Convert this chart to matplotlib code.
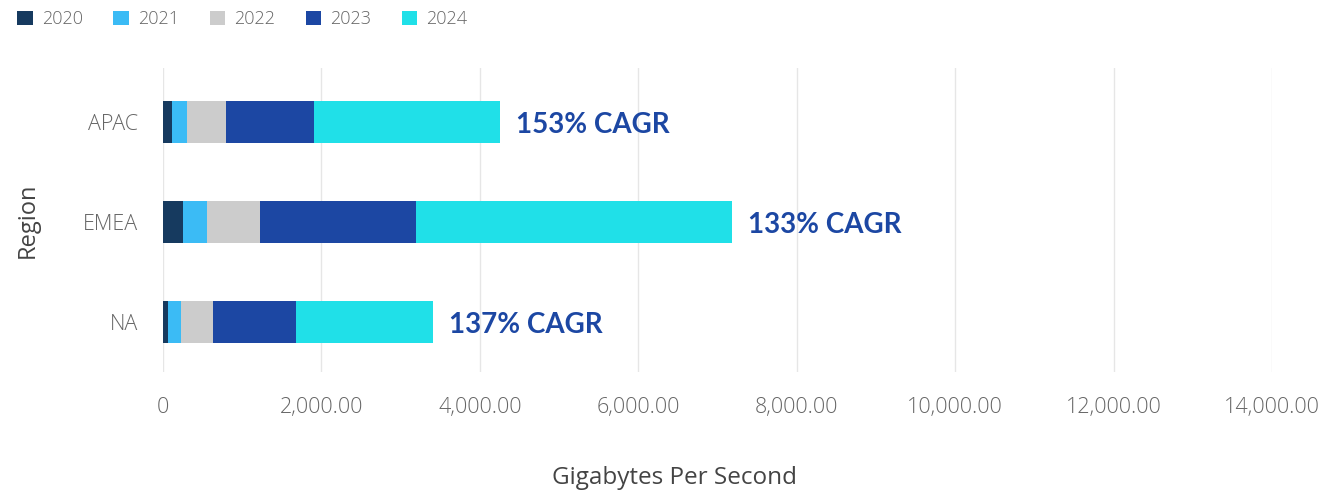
import matplotlib
matplotlib.use("Agg")
import matplotlib.pyplot as plt
from matplotlib.patches import Patch
from matplotlib.ticker import FuncFormatter

regions = ["NA", "EMEA", "APAC"]
years = ["2020", "2021", "2022", "2023", "2024"]
v2020 = [63, 248, 110]
v2021 = [164, 303, 189]
v2022 = [404, 670, 493]
v2023 = [1049, 1969, 1111]
v2024 = [1730, 3990, 2350]
cagr_labels = ["137% CAGR", "133% CAGR", "153% CAGR"]
colors = ["#163A5F", "#3BBBF5", "#CCCCCC", "#1C47A3", "#20E0E8"]

plt.rcParams['font.family'] = ['Open Sans', 'DejaVu Sans']

fig = plt.figure(figsize=(13.44, 4.94), dpi=100)
ax = fig.add_axes([163/1344, 1-372/494, (1272-163)/1344, (372-68)/494])

series = [v2020, v2021, v2022, v2023, v2024]
y = list(range(len(regions)))
left = [0]*len(regions)
for vals, c in zip(series, colors):
    ax.barh(y, vals, left=left, height=0.42, color=c, zorder=3)
    left = [l+v for l, v in zip(left, vals)]

for yi, tot, lab in zip(y, left, cagr_labels):
    ax.text(tot + 200, yi - 0.03, lab, va='center', ha='left', fontsize=20,
            fontweight='bold', color='#1C47A3', family=['Lato', 'DejaVu Sans'])

ax.set_xlim(0, 14000)
ax.set_ylim(-0.5, 2.54)
ax.set_xticks(range(0, 14001, 2000))
ax.xaxis.set_major_formatter(FuncFormatter(lambda v, p: "0" if v == 0 else f"{v:,.2f}"))
ax.set_yticks(y)
ax.set_yticklabels(regions)
ax.tick_params(axis='both', length=0, labelsize=15.5, labelcolor='#666666')
ax.tick_params(axis='x', pad=18)
ax.tick_params(axis='y', pad=18)
for t in ax.get_xticklabels() + ax.get_yticklabels():
    t.set_fontweight('light')
ax.grid(axis='x', color='#E6E6E6', linewidth=1, zorder=0)
for s in ax.spines.values():
    s.set_visible(False)
fig.text(0.502, 1-478/494, "Gigabytes Per Second", fontsize=17.5, color='#444444',
         ha='center', va='center')
fig.text(28/1344, 1-220/494, "Region", fontsize=17, color='#444444',
         ha='center', va='center', rotation=90)

handles = [Patch(facecolor=c, label=yr) for c, yr in zip(colors, years)]
leg = fig.legend(handles=handles, loc='upper left', bbox_to_anchor=(0.0008, 1.012), ncol=5,
           frameon=False, fontsize=13, handlelength=0.85, handleheight=0.85,
           columnspacing=1.7, handletextpad=0.5, labelcolor='#666666')
for t in leg.get_texts():
    t.set_fontweight('light')

fig.savefig("out.png", dpi=100)
